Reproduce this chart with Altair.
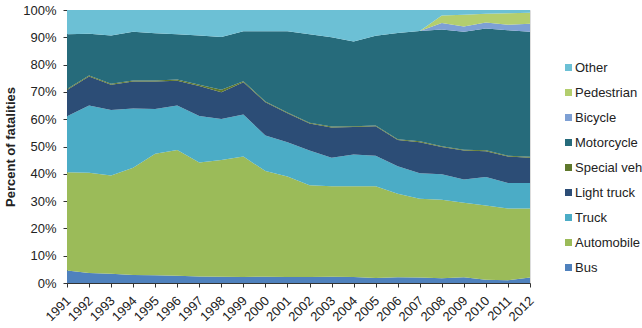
import altair as alt
import pandas as pd

years = list(range(1991, 2013))

bus = [4.6, 3.7, 3.4, 2.9, 2.8, 2.7, 2.4, 2.3, 2.2, 2.3, 2.2, 2.2, 2.3, 2.2, 1.8, 2.1, 2.0, 1.7, 2.1, 1.2, 1.0, 2.0]
automobile = [36.0, 36.7, 36.0, 39.3, 44.5, 46.0, 41.7, 42.8, 44.1, 38.7, 36.8, 33.6, 33.1, 33.2, 33.6, 30.6, 28.9, 28.8, 27.3, 27.2, 26.3, 25.3]
truck = [20.5, 24.6, 24.0, 21.7, 16.4, 16.3, 17.1, 15.0, 15.4, 13.0, 12.6, 12.7, 10.5, 11.7, 11.2, 10.1, 9.3, 9.3, 8.5, 10.4, 9.3, 9.3]
light_truck = [9.6, 10.6, 9.2, 9.9, 10.1, 9.1, 11.0, 9.8, 11.8, 12.2, 10.6, 9.9, 11.1, 10.0, 10.8, 9.6, 11.4, 10.0, 10.6, 9.5, 9.7, 9.3]
special_veh = [0.4, 0.4, 0.4, 0.4, 0.4, 0.4, 0.4, 0.9, 0.4, 0.3, 0.3, 0.3, 0.3, 0.3, 0.3, 0.3, 0.3, 0.3, 0.3, 0.3, 0.3, 0.3]
motorcycle = [20.0, 15.3, 17.7, 17.8, 17.3, 16.6, 18.1, 19.3, 18.3, 25.7, 29.7, 32.4, 32.7, 31.1, 32.9, 38.9, 40.4, 42.8, 43.2, 44.6, 46.0, 45.8]
bicycle = [0, 0, 0, 0, 0, 0, 0, 0, 0, 0, 0, 0, 0, 0, 0, 0, 0, 2.3, 2.0, 2.2, 2.0, 3.0]
pedestrian = [0, 0, 0, 0, 0, 0, 0, 0, 0, 0, 0, 0, 0, 0, 0, 0, 0, 2.8, 4.3, 3.2, 4.2, 4.0]
other = [8.9, 8.7, 9.3, 8.0, 8.5, 8.9, 9.3, 9.9, 7.8, 7.8, 7.8, 8.9, 10.0, 11.5, 9.4, 8.4, 7.7, 2.0, 1.7, 1.4, 1.2, 1.0]

categories = ["Bus", "Automobile", "Truck", "Light truck", "Special veh",
              "Motorcycle", "Bicycle", "Pedestrian", "Other"]
series = [bus, automobile, truck, light_truck, special_veh,
          motorcycle, bicycle, pedestrian, other]
colors = ["#4F81BD", "#9BBB59", "#4BACC6", "#2C4D76", "#5F782C",
          "#266B7B", "#7EA0D4", "#B3CE6E", "#6CC0D5"]

rows = []
for ci, (cat, vals) in enumerate(zip(categories, series)):
    for y, v in zip(years, vals):
        rows.append({"year": str(y), "category": cat, "value": v, "order": ci})
df = pd.DataFrame(rows)

legend_domain = categories[::-1]
legend_range = colors[::-1]

FONT = "Liberation Sans"

chart = alt.Chart(df).mark_area(opacity=1).encode(
    x=alt.X("year:O", scale=alt.Scale(padding=0),
            axis=alt.Axis(title=None, labelAngle=-45, labelAlign="right",
                          labelBaseline="top", labelPadding=7, labelOffset=-3,
                          tickSize=4, labelFontSize=13, labelColor="#222",
                          domainColor="#333", tickColor="#333",
                          labelFont=FONT)),
    y=alt.Y("value:Q", stack="normalize",
            scale=alt.Scale(domain=[0, 1]),
            axis=alt.Axis(title="Percent of fatalities", format=".0%",
                          values=[i / 10 for i in range(11)],
                          grid=False, tickSize=4, labelPadding=7,
                          labelFontSize=13, labelColor="#222",
                          titleFontSize=13, titleFontWeight="bold",
                          titleColor="#222", titlePadding=5,
                          domainColor="#333", tickColor="#333",
                          labelFont=FONT, titleFont=FONT)),
    color=alt.Color("category:N",
                    scale=alt.Scale(domain=legend_domain, range=legend_range),
                    legend=alt.Legend(title=None, orient="none",
                                      legendX=495, legendY=51,
                                      symbolType="square", symbolSize=49,
                                      symbolStrokeWidth=0, labelFontSize=13,
                                      labelFont=FONT, labelColor="#222",
                                      rowPadding=11, labelOffset=0,
                                      padding=0, symbolOffset=0,
                                      labelLimit=200)),
    order=alt.Order("order:Q", sort="ascending"),
).properties(
    width=463, height=273,
    autosize=alt.AutoSizeParams(type="none"),
    padding={"left": 67, "top": 10, "right": 112, "bottom": 45},
).configure_view(stroke=None).configure(background="white", font=FONT)

chart.save("out.html", embed_options={"renderer": "svg", "actions": False})
